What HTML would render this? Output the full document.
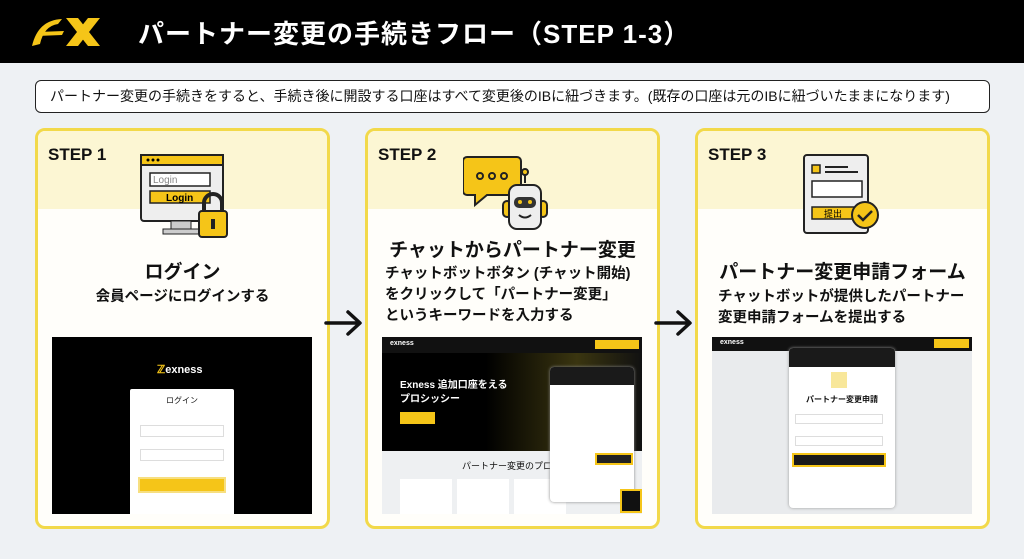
<!DOCTYPE html>
<html><head><meta charset="utf-8">
<style>
*{margin:0;padding:0;box-sizing:border-box}
body{width:1024px;height:559px;background:#eef1f4;font-family:"Liberation Sans","Noto Sans CJK JP",sans-serif;position:relative;overflow:hidden;color:#111}
.a{position:absolute}
.hdr{left:0;top:0;width:1024px;height:63px;background:#000}
.ttl{left:138px;top:14px;color:#fff;font-size:26px;font-weight:bold;letter-spacing:1px}
.note{left:35px;top:80px;width:955px;height:33px;background:#fff;border:1.5px solid #222;border-radius:6px;font-size:14px;font-weight:normal;padding-left:14px;line-height:30px;white-space:nowrap}
.card{top:128px;width:295px;height:401px;background:#fffefa;border:3px solid #f2d94a;border-radius:10px;overflow:hidden}
.band{left:0;top:0;width:100%;height:78px;background:#fcf6d3}
.step{left:10px;top:14px;font-size:17px;font-weight:bold}
.h{width:100%;text-align:center;font-size:19px;font-weight:bold;left:0}
.t{font-size:14.5px;font-weight:bold;line-height:21px}
.shot{background:#000;overflow:hidden}
</style></head><body>
<div class="a hdr"></div>
<svg class="a" style="left:28px;top:14px" width="76" height="36" viewBox="0 0 76 36"><path d="M4 32 Q10 6 34 5 L30 10 Q16 12 12 30 Z" fill="#f5c518"/><path d="M10 18 L36 17 L34 21 L9 22Z" fill="#f5c518"/><path d="M38 4 L50 4 L72 32 L60 32Z" fill="#f5c518"/><path d="M60 4 L72 4 L50 32 L38 32Z" fill="#f5c518"/></svg>
<div class="a ttl">パートナー変更の手続きフロー（STEP 1-3）</div>
<div class="a note">パートナー変更の手続きをすると、手続き後に開設する口座はすべて変更後のIBに紐づきます。(既存の口座は元のIBに紐づいたままになります)</div>

<!-- card1 -->
<div class="a card" style="left:35px">
 <div class="a band"></div>
 <div class="a step">STEP 1</div>
 <svg class="a" style="left:95px;top:22px" width="110" height="90"><rect x="8" y="2" width="82" height="66" rx="3" fill="#eee" stroke="#222" stroke-width="2"/><rect x="8" y="2" width="82" height="10" fill="#f5c518" stroke="#222" stroke-width="2"/><circle cx="15" cy="7" r="1.5"/><circle cx="20" cy="7" r="1.5"/><circle cx="25" cy="7" r="1.5"/><rect x="17" y="20" width="60" height="13" fill="#fff" stroke="#222" stroke-width="1.5"/><text x="20" y="30" font-size="10" fill="#888" font-family="Liberation Sans">Login</text><rect x="17" y="38" width="60" height="12" fill="#f5c518" stroke="#222" stroke-width="1.5"/><text x="33" y="48" font-size="10" font-weight="bold" font-family="Liberation Sans">Login</text><rect x="38" y="68" width="20" height="8" fill="#ccc" stroke="#222"/><rect x="30" y="76" width="36" height="5" fill="#ccc" stroke="#222"/><path d="M71 58 v-8 a9 9 0 0 1 18 0 v8" fill="none" stroke="#222" stroke-width="4"/><rect x="66" y="58" width="28" height="26" rx="3" fill="#f5c518" stroke="#222" stroke-width="2"/><rect x="78" y="66" width="4" height="10" fill="#222"/></svg>
 <div class="a h" style="top:126px">ログイン</div>
 <div class="a t" style="left:0;width:100%;text-align:center;top:156px">会員ページにログインする</div>
 <div class="a shot" style="left:14px;top:206px;width:260px;height:177px">
  <div class="a" style="left:105px;top:26px;color:#fff;font-size:11px;font-weight:bold"><span style="color:#f5c518">ℤ</span>exness</div>
  <div class="a" style="left:78px;top:52px;width:104px;height:130px;background:#fff;border-radius:2px">
   <div class="a" style="left:0;width:100%;text-align:center;top:6px;font-size:8px">ログイン</div>
   <div class="a" style="left:10px;top:36px;width:84px;height:12px;border:1px solid #ddd"></div>
   <div class="a" style="left:10px;top:60px;width:84px;height:12px;border:1px solid #ddd"></div>
   <div class="a" style="left:8px;top:88px;width:88px;height:16px;background:#f5c518;border:2px solid #f7df80"></div>
  </div>
 </div>
</div>

<svg class="a" style="left:324px;top:308px" width="40" height="30"><path d="M2 15 H35 M24 4 L36 15 L24 26" stroke="#111" stroke-width="3.5" fill="none" stroke-linecap="round" stroke-linejoin="round"/></svg>

<!-- card2 -->
<div class="a card" style="left:365px">
 <div class="a band"></div>
 <div class="a step">STEP 2</div>
 <svg class="a" style="left:95px;top:20px" width="105" height="90"><path d="M4 6 h50 a4 4 0 0 1 4 4 v30 a4 4 0 0 1 -4 4 h-30 l-12 10 v-10 h-8 a4 4 0 0 1 -4 -4 v-30 a4 4 0 0 1 4 -4z" fill="#f5c518" stroke="#222" stroke-width="2"/><circle cx="17" cy="25" r="3" fill="none" stroke="#222" stroke-width="2"/><circle cx="29" cy="25" r="3" fill="none" stroke="#222" stroke-width="2"/><circle cx="41" cy="25" r="3" fill="none" stroke="#222" stroke-width="2"/><line x1="62" y1="32" x2="62" y2="24" stroke="#222" stroke-width="2"/><circle cx="62" cy="21" r="3" fill="#f5c518" stroke="#222" stroke-width="2"/><rect x="40" y="50" width="8" height="16" rx="4" fill="#f5c518" stroke="#222" stroke-width="2"/><rect x="76" y="50" width="8" height="16" rx="4" fill="#f5c518" stroke="#222" stroke-width="2"/><rect x="46" y="34" width="32" height="44" rx="8" fill="#eee" stroke="#222" stroke-width="2"/><rect x="51" y="46" width="22" height="11" rx="5" fill="#333"/><circle cx="57" cy="51" r="2" fill="#f5c518"/><circle cx="67" cy="51" r="2" fill="#f5c518"/><path d="M56 64 q6 5 12 0" stroke="#222" stroke-width="2" fill="none"/></svg>
 <div class="a h" style="top:104px">チャットからパートナー変更</div>
 <div class="a t" style="left:17px;top:133px">チャットボットボタン (チャット開始)<br>をクリックして「パートナー変更」<br>というキーワードを入力する</div>
 <div class="a shot" style="left:14px;top:206px;width:260px;height:177px">
  <div class="a" style="left:0;top:0;width:100%;height:16px;background:#111"></div>
  <div class="a" style="left:8px;top:3px;color:#fff;font-size:7px;font-weight:bold">exness</div>
  <div class="a" style="left:213px;top:3px;width:44px;height:9px;background:#f5c518"></div>
  <div class="a" style="left:0;top:16px;width:100%;height:98px;background:linear-gradient(90deg,#000 40%,#3a3510 75%,#111)"></div>
  <div class="a" style="left:18px;top:42px;color:#fff;font-size:10px;font-weight:bold;line-height:14px">Exness 追加口座をえる<br>プロシッシー</div>
  <div class="a" style="left:18px;top:75px;width:35px;height:12px;background:#f5c518"></div>
  <div class="a" style="left:0;top:114px;width:100%;height:63px;background:#eef0f2"></div>
  <div class="a" style="left:80px;top:122px;font-size:9px">パートナー変更のプロジ</div>
  <div class="a" style="left:18px;top:142px;width:52px;height:35px;background:#fff"></div>
  <div class="a" style="left:75px;top:142px;width:52px;height:35px;background:#fff"></div>
  <div class="a" style="left:132px;top:142px;width:52px;height:35px;background:#fff"></div>
  <div class="a" style="left:168px;top:30px;width:84px;height:135px;background:#fff;border-radius:4px;box-shadow:0 0 3px #888"><div style="height:18px;background:#1a1a1a;border-radius:4px 4px 0 0"></div></div>
  <div class="a" style="left:213px;top:116px;width:38px;height:12px;background:#222;border:2px solid #f5c518"></div>
  <div class="a" style="left:238px;top:152px;width:22px;height:24px;background:#111;border:2px solid #f5c518"></div>
 </div>
</div>

<svg class="a" style="left:654px;top:308px" width="40" height="30"><path d="M2 15 H35 M24 4 L36 15 L24 26" stroke="#111" stroke-width="3.5" fill="none" stroke-linecap="round" stroke-linejoin="round"/></svg>

<!-- card3 -->
<div class="a card" style="left:695px">
 <div class="a band"></div>
 <div class="a step">STEP 3</div>
 <svg class="a" style="left:100px;top:22px" width="90" height="86"><rect x="6" y="2" width="64" height="78" rx="3" fill="#eee" stroke="#222" stroke-width="2"/><rect x="14" y="12" width="8" height="8" fill="#f5c518" stroke="#222" stroke-width="1.5"/><line x1="27" y1="14" x2="50" y2="14" stroke="#222" stroke-width="2"/><line x1="27" y1="19" x2="60" y2="19" stroke="#222" stroke-width="2"/><rect x="14" y="28" width="50" height="16" fill="#fff" stroke="#222" stroke-width="1.5"/><rect x="14" y="54" width="44" height="12" fill="#f5c518" stroke="#222" stroke-width="1.5"/><text x="26" y="64" font-size="9" font-family="Noto Sans CJK JP">提出</text><circle cx="67" cy="62" r="13" fill="#f5c518" stroke="#222" stroke-width="2"/><path d="M60 62 l5 5 l9 -9" stroke="#222" stroke-width="2.5" fill="none"/></svg>
 <div class="a h" style="top:126px">パートナー変更申請フォーム</div>
 <div class="a t" style="left:20px;top:156px">チャットボットが提供したパートナー<br>変更申請フォームを提出する</div>
 <div class="a shot" style="left:14px;top:206px;width:260px;height:177px;background:#e9ebed">
  <div class="a" style="left:0;top:0;width:100%;height:14px;background:#111"></div>
  <div class="a" style="left:8px;top:2px;color:#fff;font-size:7px;font-weight:bold">exness</div>
  <div class="a" style="left:222px;top:2px;width:35px;height:9px;background:#f5c518"></div>
  <div class="a" style="left:77px;top:11px;width:106px;height:160px;background:#fff;border-radius:4px;box-shadow:0 0 3px #999">
   <div style="height:19px;background:#1a1a1a;border-radius:4px 4px 0 0"></div>
   <div class="a" style="left:42px;top:24px;width:16px;height:16px;background:#f8e79a"></div>
   <div class="a" style="left:0;width:100%;text-align:center;top:46px;font-size:8px;font-weight:bold">パートナー変更申請</div>
   <div class="a" style="left:6px;top:66px;width:88px;height:10px;border:1px solid #ddd"></div>
   <div class="a" style="left:6px;top:88px;width:88px;height:10px;border:1px solid #ddd"></div>
   <div class="a" style="left:3px;top:105px;width:94px;height:14px;background:#1a1a1a;border:2px solid #f5c518"></div>
  </div>
 </div>
</div>
</body></html>
